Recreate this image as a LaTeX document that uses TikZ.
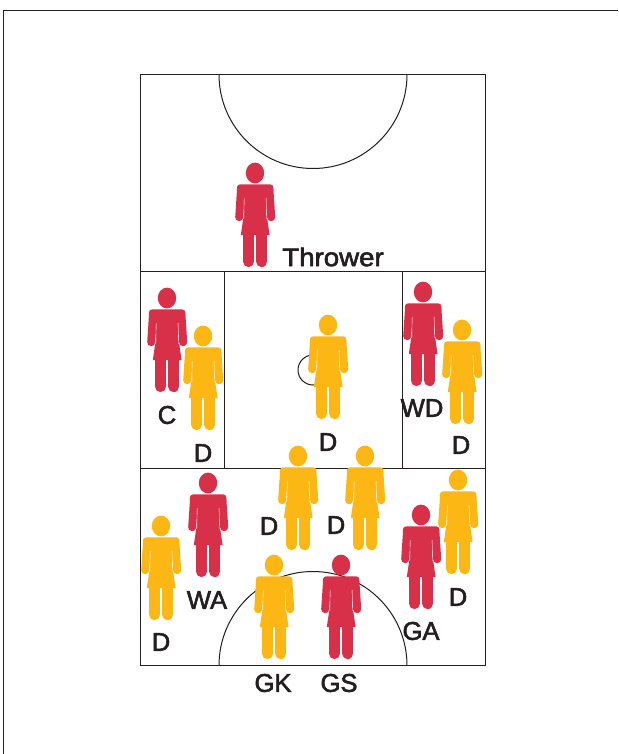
\documentclass[tikz,border=0pt]{standalone}
\usepackage{fontspec}
\usepackage{xcolor}
\setmainfont[FakeBold=2.2]{Liberation Sans}
\definecolor{redbib}{HTML}{D9304A}
\definecolor{yellowbib}{HTML}{FDB714}
\definecolor{inkline}{HTML}{231F20}
\tikzset{
  courtline/.style={draw=inkline,line width=1pt},
  lab/.style={text=inkline,font=\fontsize{25.6}{26}\selectfont,inner sep=0pt},
  player/.pic={
    \fill (0,0) ellipse[x radius=9.2,y radius=10.4];
    \draw[line width=8pt,line cap=round] (-14,16.5)--(-15.8,44.2);
    \draw[line width=8pt,line cap=round] (14.4,16.5)--(16.2,44.2);
    \fill[rounded corners=3pt] (-18,11.4)--(18.3,11.4)--(18.5,20)--(-18.2,20)--cycle;
    \fill (-11,14)--(11.4,14)--(11.6,42)--(14.6,62)--(-14.2,62)--(-11.2,42)--cycle;
    \draw[white,line width=0.35pt] (-10.8,25)--(-11.2,46);
    \draw[white,line width=0.35pt] (11.1,25)--(11.5,46);
    \draw[line width=11pt,line cap=round] (-6.5,58)--(-6.5,88.6);
    \draw[line width=11pt,line cap=round] (6.8,58)--(6.8,88.6);
  }
}
\begin{document}
\begin{tikzpicture}[x=1pt,y=-1pt]
  \useasboundingbox[fill=white] (0,0) rectangle (618,754);
  \draw[courtline,line width=1.4pt] (618,10.5)--(3.5,10.5)--(3.5,754);
  % court
  \draw[courtline] (140.5,74.5) rectangle (485.5,665.5);
  \draw[courtline] (140.5,271.5)--(485.5,271.5);
  \draw[courtline] (140.5,468.5)--(485.5,468.5);
  \draw[courtline] (224.5,271.5)--(224.5,468.5);
  \draw[courtline] (402.5,271.5)--(402.5,468.5);
  \draw[courtline] (219,74.5) arc[start angle=180,end angle=360,x radius=94,y radius=-94];
  \draw[courtline] (219,665.5) arc[start angle=180,end angle=0,x radius=94,y radius=-94];
  \draw[courtline] (313,370) circle[radius=15];
  % players
  \foreach \nm/\x/\y in {thrower/255/173,c/167/298,wd/423/292,wa/208/483,ga/421/515,gs/341/565}{
    \pic[color=redbib] (\nm) at (\x,\y) {player};
  }
  \foreach \nm/\x/\y in {da/203/336,db/328/325,dc/462/330,dd/298/456,de/365/456,df/458/480,dg/161/526,gk/274/565}{
    \pic[color=yellowbib] (\nm) at (\x,\y) {player};
  }
  % labels
  \node[lab,xscale=1.08,transform shape] (labthrower) at (333,257) {Thrower};
  \foreach \nm/\x/\y/\lab in {labc/167/415/C,labda/203/453/D,labdb/328/442/D,labwd/422/408/WD,labdc/461/445/D,
      labdd/269/526/D,labde/336/525/D,labwa/207/600/WA,labdg/161/642/D,labgk/273/683/GK,labgs/339/683/GS,
      labga/421/631/GA,labdf/458/597/D}{
    \node[lab] (\nm) at (\x,\y) {\lab};
  }
\end{tikzpicture}
\end{document}
